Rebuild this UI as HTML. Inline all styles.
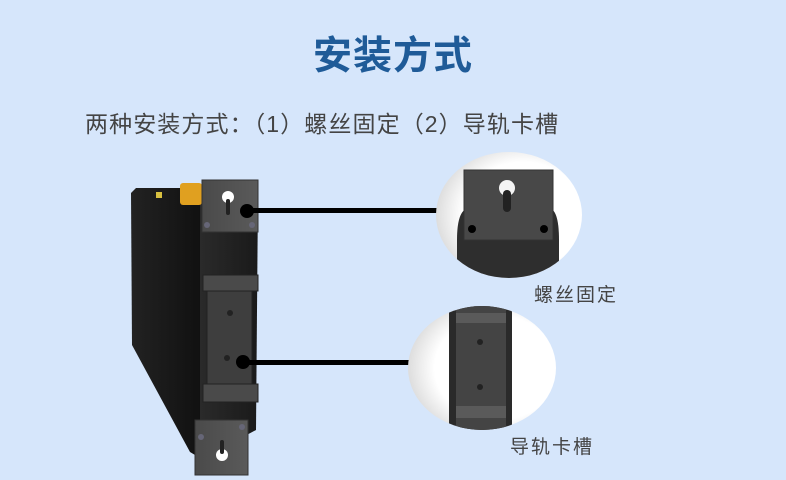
<!DOCTYPE html>
<html><head><meta charset="utf-8"><style>
html,body{margin:0;padding:0}
body{width:786px;height:480px;background:#d6e6fb;position:relative;overflow:hidden;font-family:"Liberation Sans","Noto Sans CJK SC",sans-serif}
.t{position:absolute;left:0;width:786px;text-align:center;top:29px;font-size:39px;color:#1f5b98;font-weight:bold;line-height:56px;letter-spacing:1px}
.s{position:absolute;left:85px;top:108px;font-size:23px;color:#444;letter-spacing:1.1px;line-height:32px;white-space:nowrap}
.l{position:absolute;font-size:19px;color:#444;letter-spacing:2px;white-space:nowrap}
</style></head><body>
<div class="t">安装方式</div>
<div class="s">两种安装方式：（1）螺丝固定（2）导轨卡槽</div>
<svg width="786" height="480" style="position:absolute;left:0;top:0">
<defs>
<linearGradient id="side" x1="0" x2="1"><stop offset="0" stop-color="#222"/><stop offset="1" stop-color="#111"/></linearGradient>
<linearGradient id="front" x1="0" x2="1"><stop offset="0" stop-color="#2a2a2a"/><stop offset="1" stop-color="#1a1a1a"/></linearGradient>
<linearGradient id="plate" x1="0" x2="1"><stop offset="0" stop-color="#4a4a4a"/><stop offset="1" stop-color="#5a5a5a"/></linearGradient>
<radialGradient id="circ" cx="0.6" cy="0.5" r="0.6"><stop offset="0.7" stop-color="#fff"/><stop offset="1" stop-color="#ddd"/></radialGradient>
<clipPath id="c1"><ellipse cx="509" cy="215" rx="73" ry="63"/></clipPath>
<clipPath id="c2"><ellipse cx="482" cy="368" rx="74" ry="62"/></clipPath>
</defs>
<path d="M131,193 L136,188 L200,188 L200,458 L190,452 L132,345 Z" fill="url(#side)"/>
<path d="M200,188 L258,192 L256,430 L200,460 Z" fill="url(#front)"/>
<rect x="180" y="183" width="22" height="22" rx="3" fill="#e0a020"/>
<rect x="156" y="192" width="6" height="6" fill="#d8c040"/>
<rect x="202" y="180" width="56" height="52" fill="url(#plate)" stroke="#333"/>
<circle cx="228" cy="197" r="6" fill="#fff"/><rect x="226" y="199" width="4" height="16" rx="2" fill="#222"/>
<circle cx="207" cy="225" r="3" fill="#667"/><circle cx="252" cy="225" r="3" fill="#667"/>
<rect x="207" y="282" width="45" height="112" fill="#3e3e3e" stroke="#222"/>
<rect x="203" y="275" width="55" height="16" fill="#4a4a4a" stroke="#222"/>
<rect x="203" y="384" width="55" height="18" fill="#4a4a4a" stroke="#222"/>
<circle cx="230" cy="313" r="3" fill="#222"/><circle cx="227" cy="358" r="3" fill="#222"/>
<rect x="195" y="420" width="53" height="55" fill="url(#plate)" stroke="#333"/>
<circle cx="222" cy="455" r="6" fill="#fff"/><rect x="220" y="440" width="4" height="14" rx="2" fill="#222"/>
<circle cx="201" cy="437" r="3" fill="#667"/><circle cx="242" cy="427" r="3" fill="#667"/>
<rect x="247" y="208" width="190" height="5" fill="#000"/>
<circle cx="247" cy="211" r="7" fill="#000"/>
<rect x="243" y="360" width="166" height="5" fill="#000"/>
<circle cx="243" cy="362" r="7" fill="#000"/>
<ellipse cx="509" cy="215" rx="73" ry="63" fill="url(#circ)"/>
<g clip-path="url(#c1)">
<path d="M457,240 Q457,208 470,208 L548,208 Q559,208 559,240 L559,290 L457,290 Z" fill="#2e2e2e"/>
<rect x="464" y="170" width="89" height="70" fill="#484848" stroke="#333"/>
<circle cx="507" cy="188" r="8" fill="#f4f4f4"/><rect x="503" y="190" width="8" height="22" rx="4" fill="#222"/>
<circle cx="472" cy="229" r="4" fill="#000"/><circle cx="544" cy="229" r="4" fill="#000"/>
</g>
<ellipse cx="482" cy="368" rx="74" ry="62" fill="url(#circ)"/>
<g clip-path="url(#c2)">
<rect x="449" y="300" width="63" height="135" fill="#2a2a2a"/>
<rect x="456" y="300" width="50" height="135" fill="#444"/>
<rect x="456" y="313" width="50" height="10" fill="#5a5a5a"/>
<rect x="456" y="406" width="50" height="12" fill="#5a5a5a"/>
<circle cx="480" cy="342" r="3" fill="#222"/><circle cx="480" cy="387" r="3" fill="#222"/>
</g>
</svg>
<div class="l" style="left:534px;top:280px">螺丝固定</div>
<div class="l" style="left:510px;top:432px">导轨卡槽</div>
</body></html>
